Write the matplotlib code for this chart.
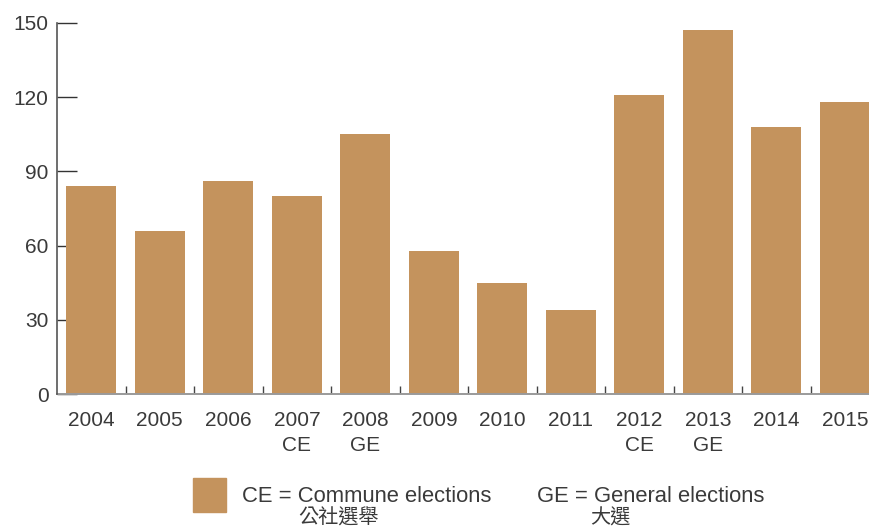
import matplotlib
matplotlib.use("Agg")
import matplotlib.pyplot as plt
from matplotlib.patches import Rectangle

years = ["2004", "2005", "2006", "2007", "2008", "2009", "2010", "2011", "2012", "2013", "2014", "2015"]
notes = ["", "", "", "CE", "GE", "", "", "", "CE", "GE", "", ""]
values = [84, 66, 86, 80, 105, 58, 45, 34, 121, 147, 108, 118]
yticks = [0, 30, 60, 90, 120, 150]

bar_color = "#C4935D"
text_color = "#3a3a3a"

plt.rcParams['font.family'] = ['Liberation Sans', 'Noto Sans CJK TC', 'DejaVu Sans']

W, H = 870, 530
fig = plt.figure(figsize=(W / 100, H / 100), dpi=100)
ax = fig.add_axes([57 / W, (H - 394) / H, (W - 57) / W, (394 - 23) / H])

x = list(range(len(years)))
ax.bar(x, values, width=0.73, color=bar_color, zorder=2)

labels = [y if n == "" else f"{y}\n{n}" for y, n in zip(years, notes)]
ax.set_xticks(x)
ax.set_xticklabels(labels, fontsize=15, color=text_color, va="top", linespacing=1.45)
ax.set_xticks([i + 0.5 for i in range(len(years) - 1)], minor=True)
ax.tick_params(axis="x", which="major", length=0, pad=12)
ax.tick_params(axis="x", which="minor", direction="in", length=6, width=1, color="#444444")

ax.set_yticks(yticks)
ax.set_yticklabels([str(v) for v in yticks], fontsize=15, color=text_color)
ax.tick_params(axis="y", direction="in", length=14.5, width=1, color="#333333", pad=6)

ax.set_ylim(0, 150)
ax.set_xlim(-0.5, 11.365)

for s in ["top", "right"]:
    ax.spines[s].set_visible(False)
ax.spines["left"].set_color("#555555")
ax.spines["left"].set_linewidth(1.2)
ax.spines["bottom"].set_color("#9a9a9a")
ax.spines["bottom"].set_linewidth(1.4)
ax.spines["left"].set_zorder(3)

# legend
def fy(py):
    return (H - py) / H

fig.patches.append(Rectangle((193 / W, fy(512)), 33 / W, 34 / H, transform=fig.transFigure,
                             color=bar_color, figure=fig))
fig.text(242 / W, fy(497), "CE = Commune elections", fontsize=15.8, color=text_color, va="center", ha="left")
fig.text(298 / W, fy(518), "公社選舉", fontsize=14.5, color=text_color, va="center", ha="left",
         family=['Noto Sans CJK TC', 'DejaVu Sans'], fontweight='light')
fig.text(537 / W, fy(497), "GE = General elections", fontsize=15.8, color=text_color, va="center", ha="left")
fig.text(590 / W, fy(518), "大選", fontsize=14.5, color=text_color, va="center", ha="left",
         family=['Noto Sans CJK TC', 'DejaVu Sans'], fontweight='light')

fig.savefig("out.png", dpi=100)
